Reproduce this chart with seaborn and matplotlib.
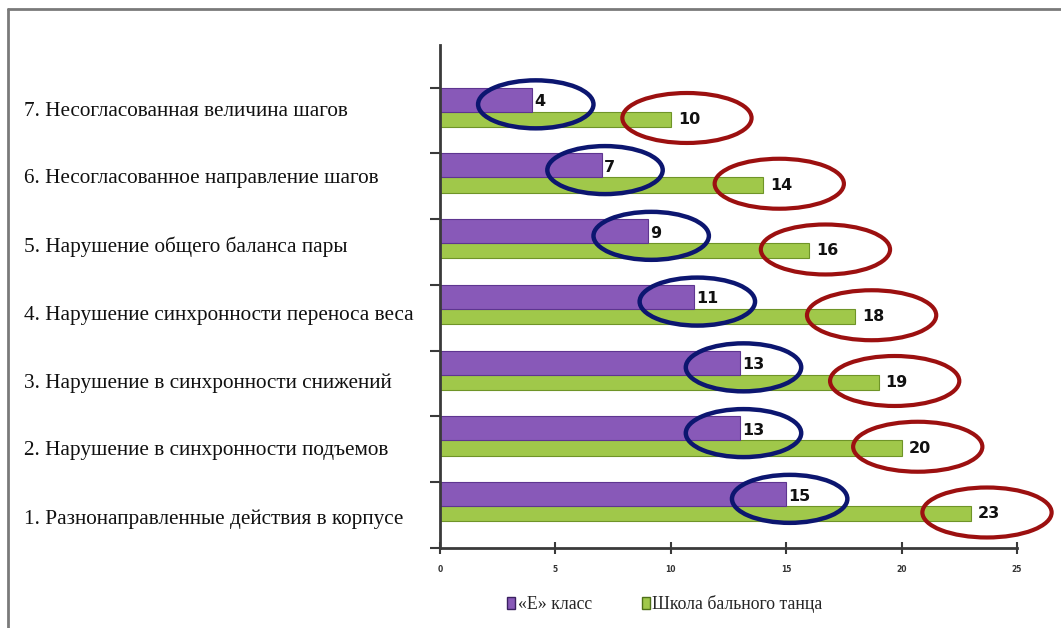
import numpy as np
import pandas as pd
import matplotlib
matplotlib.use('Agg')
import matplotlib.pyplot as plt
import seaborn as sns
from matplotlib.patches import Ellipse, Patch
from matplotlib.lines import Line2D

# Data (category 1 is at the bottom)
categories = [
    '1. Разнонаправленные действия в корпусе',
    '2. Нарушение в синхронности подъемов',
    '3. Нарушение в синхронности снижений',
    '4. Нарушение синхронности переноса веса',
    '5. Нарушение общего баланса пары',
    '6. Несогласованное направление шагов',
    '7. Несогласованная величина шагов',
]
e_class = [15, 13, 13, 11, 9, 7, 4]
dance_school = [23, 20, 19, 18, 16, 14, 10]
series_names = ['«Е» класс', 'Школа бального танца']
x_ticks = [0, 5, 10, 15, 20, 25]

purple = '#8859b8'
green = '#a0c84a'

sns.set_style('white')
plt.rcParams['font.family'] = ['DejaVu Sans']

fig = plt.figure(figsize=(10.61, 6.28), dpi=100)
ax = fig.add_axes([440 / 1061, 1 - 548 / 628, 577 / 1061, 503 / 628])

band = np.arange(1, len(categories) + 1)   # top edge of each category band
h_p, h_g = 0.365, 0.23
pos_p = band - h_p / 2
pos_g = band - h_p - h_g / 2

df_p = pd.DataFrame({'value': e_class, 'pos': pos_p})
df_g = pd.DataFrame({'value': dance_school, 'pos': pos_g})

sns.barplot(data=df_g, x='value', y='pos', orient='h', native_scale=True,
            width=h_g, color=green, saturation=1, errorbar=None,
            edgecolor='#6f9428', linewidth=0.8, ax=ax)
sns.barplot(data=df_p, x='value', y='pos', orient='h', native_scale=True,
            width=h_p, color=purple, saturation=1, errorbar=None,
            edgecolor='#5e3590', linewidth=0.8, ax=ax)

ax.set_xlim(0, 25)
ax.set_ylim(0, 7.65)
ax.set_xlabel('')
ax.set_ylabel('')

# value labels and ellipses
for v, p in zip(e_class, pos_p):
    ax.text(v + 0.1, p - 0.03, str(v), fontsize=11.5, fontweight='bold',
            va='center', ha='left', color='#111111', zorder=5)
    ax.add_patch(Ellipse((v + 0.15, p - 0.07), 5.0, 0.73, fill=False,
                         edgecolor='#0c1670', linewidth=3.2, zorder=6,
                         clip_on=False))
for v, p in zip(dance_school, pos_g):
    ax.text(v + 0.3, p, str(v), fontsize=11.5, fontweight='bold',
            va='center', ha='left', color='#111111', zorder=5)
    ax.add_patch(Ellipse((v + 0.7, p + 0.02), 5.6, 0.76, fill=False,
                         edgecolor='#9c1010', linewidth=3.0, zorder=6,
                         clip_on=False))

# axes styling
for s in ['top', 'right']:
    ax.spines[s].set_visible(False)
for s in ['left', 'bottom']:
    ax.spines[s].set_color('#3a3a3a')
    ax.spines[s].set_linewidth(2)
ax.set_yticks(np.arange(0, len(categories) + 1))
ax.set_yticklabels([])
ax.tick_params(axis='y', length=7, width=1.5, color='#3a3a3a', left=True)
ax.set_xticks(x_ticks)
ax.set_xticklabels([str(t) for t in x_ticks], fontsize=5.5, fontweight='bold',
                   color='#333333')
ax.tick_params(axis='x', direction='inout', length=8, width=1.5,
               color='#3a3a3a', pad=8, bottom=True)

# category labels on the left
for i, lab in enumerate(categories):
    y_px = 519 - i * 68
    fig.text(24 / 1061, 1 - y_px / 628, lab, family='Liberation Serif',
             fontsize=15.3, ha='left', va='center', color='#111111')

# legend
handles = [Patch(facecolor=purple, edgecolor='#3a2060'),
           Patch(facecolor=green, edgecolor='#4e7018')]
fig.legend(handles, series_names, loc='center', ncol=2, frameon=False,
           bbox_to_anchor=(665 / 1061, 1 - 604 / 628),
           prop={'family': 'Liberation Serif', 'size': 12.8},
           handlelength=0.45, handleheight=0.7, handletextpad=0.15,
           columnspacing=2.8)

# frame lines (top and left)
fig.add_artist(Line2D([8 / 1061, 1], [1 - 9 / 628, 1 - 9 / 628],
                      color='#7a7a7a', linewidth=2, transform=fig.transFigure))
fig.add_artist(Line2D([8 / 1061, 8 / 1061], [0, 1 - 9 / 628],
                      color='#7a7a7a', linewidth=2, transform=fig.transFigure))

fig.savefig('out.png', dpi=100)
